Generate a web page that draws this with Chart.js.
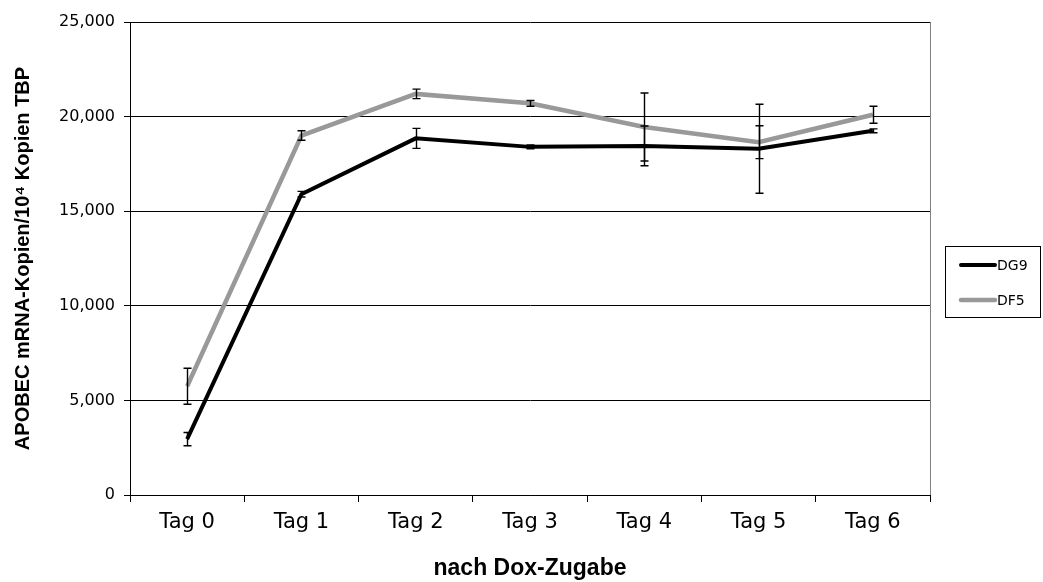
<!DOCTYPE html>
<html>
<head>
<meta charset="utf-8">
<title>APOBEC mRNA</title>
<script src="https://cdn.jsdelivr.net/npm/chart.js@4/dist/chart.umd.min.js"></script>
<style>
  html, body { margin: 0; padding: 0; background: #fff; }
  #wrap { width: 1043px; height: 582px; }
</style>
</head>
<body>
<div id="wrap"><canvas id="c" width="1043" height="582"></canvas></div>
<script>
// Days after doxycycline addition
const categories = ['Tag 0', 'Tag 1', 'Tag 2', 'Tag 3', 'Tag 4', 'Tag 5', 'Tag 6'];

// DG9 means and error (± SD)
const dg9Values = [2950, 15900, 18850, 18400, 18450, 18300, 19250];
const dg9Errors = [350, 150, 530, 100, 1050, 2350, 100];

// DF5 means and error (± SD)
const df5Values = [5750, 19000, 21200, 20700, 19450, 18650, 20100];
const df5Errors = [950, 250, 250, 150, 1800, 870, 450];

// Y axis range and tick step
const yMin = 0;
const yMax = 25000;
const yStep = 5000;

const seriesNames = ['DG9', 'DF5'];
const seriesColors = ['#000000', '#999999'];
const seriesWidths = [4, 4.5];

// Error bars with caps, drawn on top of the lines
const errorBarPlugin = {
  id: 'errorBars',
  afterDatasetsDraw(chart) {
    const ctx = chart.ctx;
    const xs = chart.scales.x, ys = chart.scales.y;
    ctx.save();
    ctx.strokeStyle = '#000';
    ctx.lineWidth = 1.4;
    chart.data.datasets.forEach(ds => {
      ds.data.forEach((v, i) => {
        const e = ds.errors[i];
        const x = Math.round(xs.getPixelForValue(i)) + 0.5;
        const yTop = ys.getPixelForValue(v + e);
        const yBot = ys.getPixelForValue(v - e);
        ctx.beginPath();
        ctx.moveTo(x, yTop); ctx.lineTo(x, yBot);
        ctx.moveTo(x - 4, yTop); ctx.lineTo(x + 4, yTop);
        ctx.moveTo(x - 4, yBot); ctx.lineTo(x + 4, yBot);
        ctx.stroke();
      });
    });
    ctx.restore();
  }
};

// Right frame edge and boxed legend
const frameLegendPlugin = {
  id: 'frameLegend',
  afterDraw(chart) {
    const ctx = chart.ctx;
    const a = chart.chartArea;
    ctx.save();
    ctx.strokeStyle = '#808080';
    ctx.lineWidth = 1;
    ctx.beginPath();
    ctx.moveTo(Math.round(a.right) + 0.5, a.top);
    ctx.lineTo(Math.round(a.right) + 0.5, a.bottom);
    ctx.stroke();

    const bx = 945.5, by = 246.5, bw = 95, bh = 71;
    ctx.strokeStyle = '#000';
    ctx.strokeRect(bx, by, bw, bh);
    ctx.font = '14px "DejaVu Sans"';
    ctx.textBaseline = 'middle';
    ctx.fillStyle = '#000';
    seriesNames.forEach((name, i) => {
      const y = 265 + i * 35;
      ctx.strokeStyle = seriesColors[i];
      ctx.lineWidth = seriesWidths[i];
      ctx.lineCap = 'round';
      ctx.beginPath();
      ctx.moveTo(961, y); ctx.lineTo(995, y);
      ctx.stroke();
      ctx.fillText(name, 997, y + 1);
    });
    ctx.restore();
  }
};

new Chart(document.getElementById('c'), {
  type: 'line',
  data: {
    labels: categories,
    datasets: [
      { label: seriesNames[1], data: df5Values, errors: df5Errors,
        borderColor: seriesColors[1], borderWidth: seriesWidths[1], pointRadius: 0, tension: 0 },
      { label: seriesNames[0], data: dg9Values, errors: dg9Errors,
        borderColor: seriesColors[0], borderWidth: seriesWidths[0], pointRadius: 0, tension: 0 }
    ]
  },
  options: {
    responsive: false,
    animation: false,
    layout: { padding: { top: 22, right: 113, left: 0, bottom: 0 } },
    plugins: { legend: { display: false }, tooltip: { enabled: false } },
    scales: {
      x: {
        offset: true,
        grid: { offset: true, drawOnChartArea: false, drawTicks: true, tickLength: 7, color: '#000' },
        border: { color: '#000', width: 1 },
        ticks: { color: '#000', padding: 8, font: { family: 'DejaVu Sans', size: 21 } },
        title: { display: true, text: 'nach Dox-Zugabe', color: '#000',
                 font: { family: 'Liberation Sans', size: 23, weight: 'bold' }, padding: { top: 0, bottom: 0 } },
        afterFit(s) { s.height = 87; }
      },
      y: {
        min: yMin, max: yMax,
        grid: { color: '#000', lineWidth: 1, tickLength: 6, drawTicks: true },
        border: { color: '#000', width: 1 },
        ticks: { stepSize: yStep, color: '#000', padding: 9,
                 font: { family: 'DejaVu Sans', size: 16 },
                 callback: v => v.toLocaleString('en-US') },
        title: { display: true, text: 'APOBEC mRNA-Kopien/10⁴ Kopien TBP', color: '#000',
                 font: { family: 'Liberation Sans', size: 20, weight: 'bold' }, padding: { top: 11, bottom: 0 } },
        afterFit(s) { s.width = 130; }
      }
    }
  },
  plugins: [errorBarPlugin, frameLegendPlugin]
});
</script>
</body>
</html>
